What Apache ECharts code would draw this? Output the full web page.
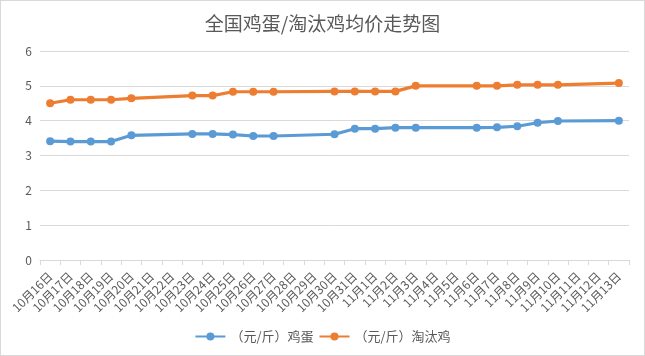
<!DOCTYPE html>
<html><head><meta charset="utf-8">
<script src="https://cdn.jsdelivr.net/npm/echarts@6/dist/echarts.min.js"></script>
<style>html,body{margin:0;padding:0;background:#fff}#c{width:643px;height:354px;border:1px solid #d9d9d9}</style>
</head><body><div id="c"></div>
<script>
const categories = ['10月16日','10月17日','10月18日','10月19日','10月20日','10月21日','10月22日','10月23日','10月24日','10月25日','10月26日','10月27日','10月28日','10月29日','10月30日','10月31日','11月1日','11月2日','11月3日','11月4日','11月5日','11月6日','11月7日','11月8日','11月9日','11月10日','11月11日','11月12日','11月13日'];
const eggPrice = [3.41,3.40,3.40,3.40,3.58,null,null,3.62,3.62,3.60,3.56,3.56,null,null,3.61,3.77,3.77,3.80,3.80,null,null,3.80,3.81,3.84,3.94,3.99,null,null,4.00];
const henPrice = [4.50,4.60,4.60,4.60,4.64,null,null,4.72,4.72,4.83,4.83,4.83,null,null,4.84,4.84,4.84,4.84,5.00,null,null,5.00,5.00,5.03,5.03,5.03,null,null,5.08];
const seriesNames = ['（元/斤）鸡蛋','（元/斤）淘汰鸡'];
const chart = echarts.init(document.getElementById('c'));
const font = '"Noto Sans CJK SC", sans-serif';
function mk(name, data, color){
  return {name, type:'line', data, connectNulls:true, symbol:'circle', symbolSize:8,
    lineStyle:{width:3.2,color}, itemStyle:{color}};
}
chart.setOption({
  animation:false,
  color:['#5B9BD5','#ED7D31'],
  title:{text:'全国鸡蛋/淘汰鸡均价走势图', left:'center', top:8,
    textStyle:{fontSize:19,fontWeight:'normal',color:'#595959',fontFamily:font}},
  legend:{bottom:7, left:'center', itemWidth:30, itemHeight:10, itemGap:5,
    textStyle:{fontSize:13,color:'#595959',fontFamily:font},
    data:seriesNames},
  grid:{left:39, right:15, top:50, bottom:95, containLabel:false},
  xAxis:{type:'category', data:categories, boundaryGap:true,
    axisLine:{lineStyle:{color:'#D9D9D9'}},
    axisTick:{show:true, alignWithLabel:false, lineStyle:{color:'#D9D9D9'}},
    axisLabel:{interval:0, rotate:45, fontSize:12, color:'#595959', fontFamily:font, margin:14}},
  yAxis:{type:'value', min:0, max:6, interval:1,
    axisLine:{show:false}, axisTick:{show:false},
    splitLine:{lineStyle:{color:'#D9D9D9'}},
    axisLabel:{fontSize:12,color:'#595959',fontFamily:font, margin:8}},
  series:[mk(seriesNames[0], eggPrice, '#5B9BD5'), mk(seriesNames[1], henPrice, '#ED7D31')]
});
</script></body></html>
